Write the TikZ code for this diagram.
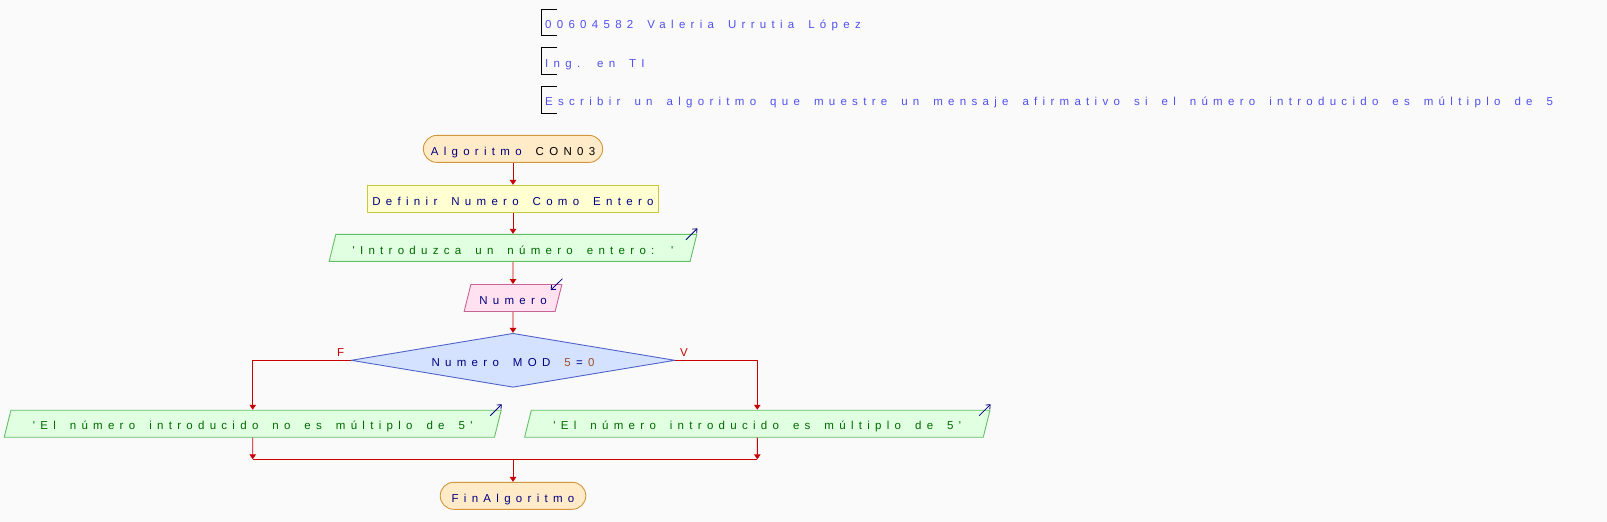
\documentclass[tikz,border=0pt]{standalone}
\usepackage{fontspec}
\newfontfamily\psfont[LetterSpace=46]{Liberation Sans}
\newcommand\psf{\psfont\fontsize{11.5pt}{13pt}\selectfont\spaceskip=14pt\relax}
\usetikzlibrary{arrows.meta,shapes.geometric,calc,positioning}
\definecolor{bgfill}{RGB}{250,250,250}
\definecolor{headtxt}{RGB}{80,80,240}
\definecolor{navytxt}{RGB}{0,0,128}
\definecolor{greentxt}{RGB}{0,105,0}
\definecolor{numtxt}{RGB}{160,80,40}
\definecolor{flowred}{RGB}{200,0,0}
\definecolor{termfill}{RGB}{255,235,200}
\definecolor{termline}{RGB}{210,150,60}
\definecolor{deffill}{RGB}{255,255,210}
\definecolor{defline}{RGB}{200,200,60}
\definecolor{outfill}{RGB}{225,255,225}
\definecolor{outline}{RGB}{100,190,100}
\definecolor{infill}{RGB}{255,225,240}
\definecolor{inline}{RGB}{200,100,150}
\definecolor{condfill}{RGB}{212,226,255}
\definecolor{condline}{RGB}{80,100,200}
\tikzset{
	box/.style={inner sep=0pt,line width=0.9pt,font=\psf,text height=15pt,text depth=2.5pt,minimum height=27pt},
	term/.style={box,rectangle,rounded corners=13.5pt,draw=termline,fill=termfill,text=navytxt},
	defbox/.style={box,rectangle,draw=defline,fill=deffill,text=navytxt},
	para/.style={box,trapezium,trapezium left angle=69,trapezium right angle=111,trapezium stretches body},
	outbox/.style={para,draw=outline,fill=outfill,text=greentxt},
	inbox/.style={para,draw=inline,fill=infill,text=navytxt},
	cond/.style={box,diamond,aspect=6,draw=condline,fill=condfill,text=navytxt},
	flow/.style={-{Triangle[length=5pt,width=6.5pt]},draw=flowred,line width=0.9pt},
	joinline/.style={draw=flowred,line width=0.9pt},
	iconarrow/.style={-{Straight Barb[length=3.5pt,width=6pt]},draw=navytxt,line width=0.8pt},
	bracket/.style={draw=black,line width=0.9pt},
	headline/.style={anchor=west,inner sep=0pt,font=\psf,text=headtxt,text height=10.7pt,text depth=2.5pt},
	condlabel/.style={inner sep=0pt,font=\psf,text=flowred}
}
\begin{document}
\begin{tikzpicture}[x=1pt,y=-1pt]
		% page and margins, in pixels of the reference
		\useasboundingbox[fill=bgfill] (0,0) rectangle (1607,522);
		\def\cx{513} % centre line of the main flow
		\def\ls{5.3pt} % letter gap where a colour change breaks the word
		
		% header
		\node[headline] (Id) at (545,24.3) {00604582 Valeria Urrutia López};
		\node[headline] (Career) at (545,63) {Ing. en TI};
		\node[headline] (Task) at (545,101.7) {Escribir un algoritmo que muestre un mensaje afirmativo si el número introducido es múltiplo de 5};
		\foreach \n in {Id,Career,Task}
			\draw[bracket] ($(\n.west)+(12,-15.2)$) -| ($(\n.west)+(-4,11.5)$) -- ++(16,0);
		
		% main flow
		\node[term,minimum width=179.3pt] (Ini) at (\cx,148.9) {Algoritmo {\color{black}CON03}};
		\node[defbox,minimum width=291pt] (Def) at (\cx,198.8) {Definir Numero Como Entero};
		\node[outbox,minimum width=367.7pt] (Out1) at (\cx,247.8) {'Introduzca un número entero: '};
		\node[inbox,minimum width=97.7pt] (In1) at (\cx,298) {Numero};
		\node[cond,minimum width=324pt,minimum height=54pt] (Cond) at (\cx,360.3) {Numero MOD {\color{numtxt}5}\kern\ls=\kern\ls{\color{numtxt}0}};
		\node[outbox,minimum width=497pt] (OutF) at (252.7,423.7) {'El número introducido no es múltiplo de 5'};
		\node[outbox,minimum width=465.4pt] (OutV) at (757.3,423.7) {'El número introducido es múltiplo de 5'};
		\coordinate (Join) at (\cx,459.3);
		\node[term,minimum width=145.6pt] (Fin) at (\cx,495.8) {FinAlgoritmo};
		
		\node[condlabel] (LblF) at ($(Cond.west)+(-10,-8)$) {F};
		\node[condlabel] (LblV) at ($(Cond.east)+(8.4,-8)$) {V};
		
		\draw[flow] (Ini) -- (Def);
		\draw[flow] (Def) -- (Out1);
		\draw[flow] (Out1) -- (In1);
		\draw[flow] (In1) -- (Cond);
		\draw[flow] (Cond.west) -| (OutF);
		\draw[flow] (Cond.east) -| (OutV);
		\draw[flow] (OutF) -- (OutF |- Join);
		\draw[flow] (OutV) -- (OutV |- Join);
		\draw[joinline] (OutF |- Join) -- (OutV |- Join);
		\draw[flow] (Join) -- (Fin);
		
		% write / read marks
		\foreach \n in {Out1,OutF,OutV}
			\draw[iconarrow] ($(\n.top right corner)+(-11.5,6)$) -- ++(11.5,-11.5);
		\draw[iconarrow] ($(In1.top right corner)+(0,-5.3)$) -- ++(-11.7,11.3);
		
	\end{tikzpicture}
\end{document}
